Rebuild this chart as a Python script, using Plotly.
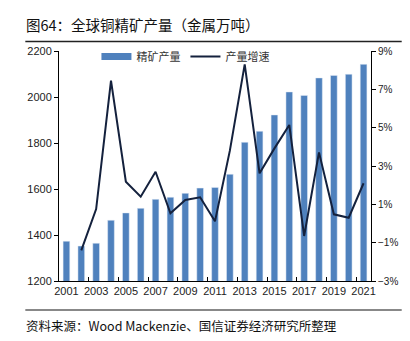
import plotly.graph_objects as go

years = list(range(2001, 2022))
output = [1373, 1352, 1364, 1464, 1496, 1516, 1555, 1564, 1581, 1604, 1607,
          1664, 1803, 1851, 1922, 2022, 2007, 2083, 2094, 2099, 2142]
growth_years = list(range(2002, 2022))
growth = [-1.4, 0.75, 7.45, 2.18, 1.40, 2.70, 0.53, 1.23, 1.37, 0.12,
          3.8, 8.3, 2.62, 3.92, 5.14, -0.65, 3.71, 0.48, 0.30, 2.10]
label_years = list(range(2001, 2022, 2))
tick_marks = [y + 0.5 for y in range(2002, 2021, 2)]

BAR = "#4F81BD"
LINE = "#14213D"
FONT = "Liberation Sans, Arial, sans-serif"
CJK = "Noto Sans CJK SC"

fig = go.Figure()
fig.add_trace(go.Bar(x=years, y=output, marker_color=BAR, width=0.45,
                     showlegend=False, name="精矿产量"))
# legend proxy for the bars (long swatch like the reference)
fig.add_trace(go.Scatter(x=[None], y=[None], mode="lines", name="精矿产量",
                         line=dict(color=BAR, width=7)))
fig.add_trace(go.Scatter(x=growth_years, y=growth, mode="lines", name="产量增速",
                         line=dict(color=LINE, width=2), yaxis="y2"))
# carrier for the secondary x axis (boundary tick marks)
fig.add_trace(go.Scatter(x=[2001], y=[1200], xaxis="x2", mode="markers",
                         marker=dict(opacity=0), showlegend=False,
                         hoverinfo="skip"))

L, R, T, B = 59, 36, 51, 60
PW, PH = 410 - L - R, 341 - T - B


def px_x(x):
    return (x - L) / PW


def px_y(y):
    return (341 - B - y) / PH


fig.update_layout(
    width=410, height=341,
    margin=dict(l=L, r=R, t=T, b=B),
    paper_bgcolor="white", plot_bgcolor="white",
    font=dict(family=FONT, size=11, color="#333333"),
    showlegend=True,
    legend=dict(orientation="h", x=0.12, y=px_y(42), xanchor="left",
                yanchor="top",
                font=dict(family=CJK, size=11, color="#333333"),
                bgcolor="rgba(0,0,0,0)", itemwidth=30, tracegroupgap=0),
    xaxis=dict(range=[2000.5, 2021.5], tickvals=label_years, ticks="",
               showline=True, linecolor="#000000", linewidth=1,
               showgrid=False, zeroline=False,
               tickfont=dict(family=FONT, size=11, color="#222222")),
    xaxis2=dict(range=[2000.5, 2021.5], overlaying="x", anchor="y",
                side="bottom", tickvals=tick_marks, ticks="inside", ticklen=4,
                tickcolor="#000000", showticklabels=False, showgrid=False,
                zeroline=False, showline=False),
    yaxis=dict(range=[1200, 2200], dtick=200, ticks="outside", ticklen=4,
               tickcolor="#000000", showline=True, linecolor="#000000",
               linewidth=1, showgrid=False, zeroline=False,
               tickfont=dict(family=FONT, size=11, color="#222222")),
    yaxis2=dict(range=[-3, 9], dtick=2, tick0=-3, overlaying="y", side="right",
                ticksuffix="%", ticks="outside", ticklen=4, tickcolor="#000000",
                showline=True, linecolor="#000000", linewidth=1,
                showgrid=False, zeroline=False,
                tickfont=dict(family=FONT, size=10, color="#222222")),
    shapes=[
        dict(type="line", xref="paper", yref="paper", layer="above",
             x0=px_x(25), x1=px_x(405), y0=px_y(41.5), y1=px_y(41.5),
             line=dict(color="#222222", width=1.3)),
        dict(type="line", xref="paper", yref="paper", layer="above",
             x0=px_x(25), x1=px_x(405), y0=px_y(310), y1=px_y(310),
             line=dict(color="#888888", width=2)),
    ],
    annotations=[
        dict(text="图64：全球铜精矿产量（金属万吨）", xref="paper", yref="paper",
             x=px_x(24), y=px_y(25), xanchor="left", yanchor="middle",
             showarrow=False,
             font=dict(family=CJK, size=14.5, color="#111111")),
        dict(text="资料来源：Wood Mackenzie、国信证券经济研究所整理",
             xref="paper", yref="paper", x=px_x(24), y=px_y(325),
             xanchor="left", yanchor="middle", showarrow=False,
             font=dict(family=CJK, size=12.5, color="#111111")),
    ],
)

fig.write_html("out.html")
